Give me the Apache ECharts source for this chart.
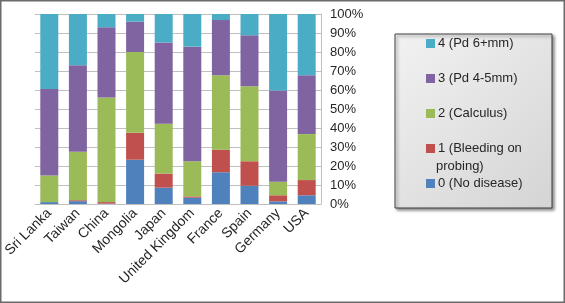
<!DOCTYPE html>
<html><head><meta charset="utf-8">
<script src="https://cdn.jsdelivr.net/npm/echarts@6/dist/echarts.min.js"></script>
<style>html,body{margin:0;padding:0;background:#fff}#c{width:565px;height:303px}</style>
</head><body><div id="c"></div>
<script>
const categories = ['Sri Lanka','Taiwan','China','Mongolia','Japan','United Kingdom','France','Spain','Germany','USA'];
const s0 = [1.0, 1.5, 0.2, 23.3, 8.6, 3.3, 16.7, 9.6, 1.4, 4.6];
const s1 = [0.0, 0.5, 0.8, 14.2, 7.4, 0.7, 11.9, 12.9, 3.2, 8.0];
const s2 = [14.0, 25.5, 55.0, 42.5, 26.3, 18.5, 39.1, 39.5, 7.1, 24.2];
const s3 = [45.5, 45.5, 37.0, 16.0, 42.7, 60.3, 29.1, 26.8, 48.1, 30.9];
const s4 = [39.5, 27.0, 7.0, 4.0, 15.0, 17.2, 3.2, 11.2, 40.2, 32.3];
const seriesNames = ['0 (No disease)','1 (Bleeding on','2 (Calculus)','3 (Pd 4-5mm)','4 (Pd 6+mm)'];
const colors = ['#4F81BD','#C0504D','#9BBB59','#8064A2','#4BACC6'];
const yTicks = [0,10,20,30,40,50,60,70,80,90,100];

const font = 'Liberation Sans, Arial, sans-serif';
const data = [s0,s1,s2,s3,s4];
const chart = echarts.init(document.getElementById('c'));
chart.setOption({
  animation:false,
  textStyle:{fontFamily:font},
  grid:{left:35,right:244,top:14,bottom:99},
  xAxis:{type:'category',data:categories,
    axisLine:{show:true,lineStyle:{color:'#BFBFBF'}},axisTick:{show:false},
    axisLabel:{rotate:45,interval:0,fontSize:14,color:'#262626',fontFamily:font,margin:7}},
  yAxis:{type:'value',position:'right',min:0,max:100,interval:10,
    axisLine:{show:true,lineStyle:{color:'#BFBFBF'}},axisTick:{show:false},
    splitLine:{lineStyle:{color:'#BFBFBF'}},
    axisLabel:{formatter:v=>v+'%',fontSize:13,color:'#262626',fontFamily:font,margin:9}},
  legend:{orient:'vertical',left:421,top:31,itemWidth:9,itemHeight:9,itemGap:20,
    icon:'rect',
    data:[seriesNames[4],seriesNames[3],seriesNames[2],seriesNames[1],seriesNames[0]],
    textStyle:{fontSize:13,color:'#262626',fontFamily:font,padding:[0,0,0,-2],lineHeight:15}},
  graphic:[
    {type:'rect',z:-1,shape:{x:395,y:34,width:157,height:174},
     style:{fill:new echarts.graphic.LinearGradient(0,0,1,1,[{offset:0,color:'#F2F2F2'},{offset:1,color:'#D4D4D4'}]),
       stroke:'#404040',lineWidth:1,shadowBlur:3,shadowOffsetX:2,shadowOffsetY:2,shadowColor:'rgba(0,0,0,0.45)'}},
    {type:'text',left:436,top:160,style:{text:'probing)',font:'13px '+font,fill:'#262626'}},
    {type:'rect',z:100,silent:true,shape:{x:0.5,y:0.5,width:564,height:302},style:{fill:'none',stroke:'#6b6b6b',lineWidth:2}}
  ],
  series:data.map((d,i)=>({name:seriesNames[i],type:'bar',stack:'all',data:d,barWidth:18,
    itemStyle:{color:colors[i]}}))
});
</script></body></html>
